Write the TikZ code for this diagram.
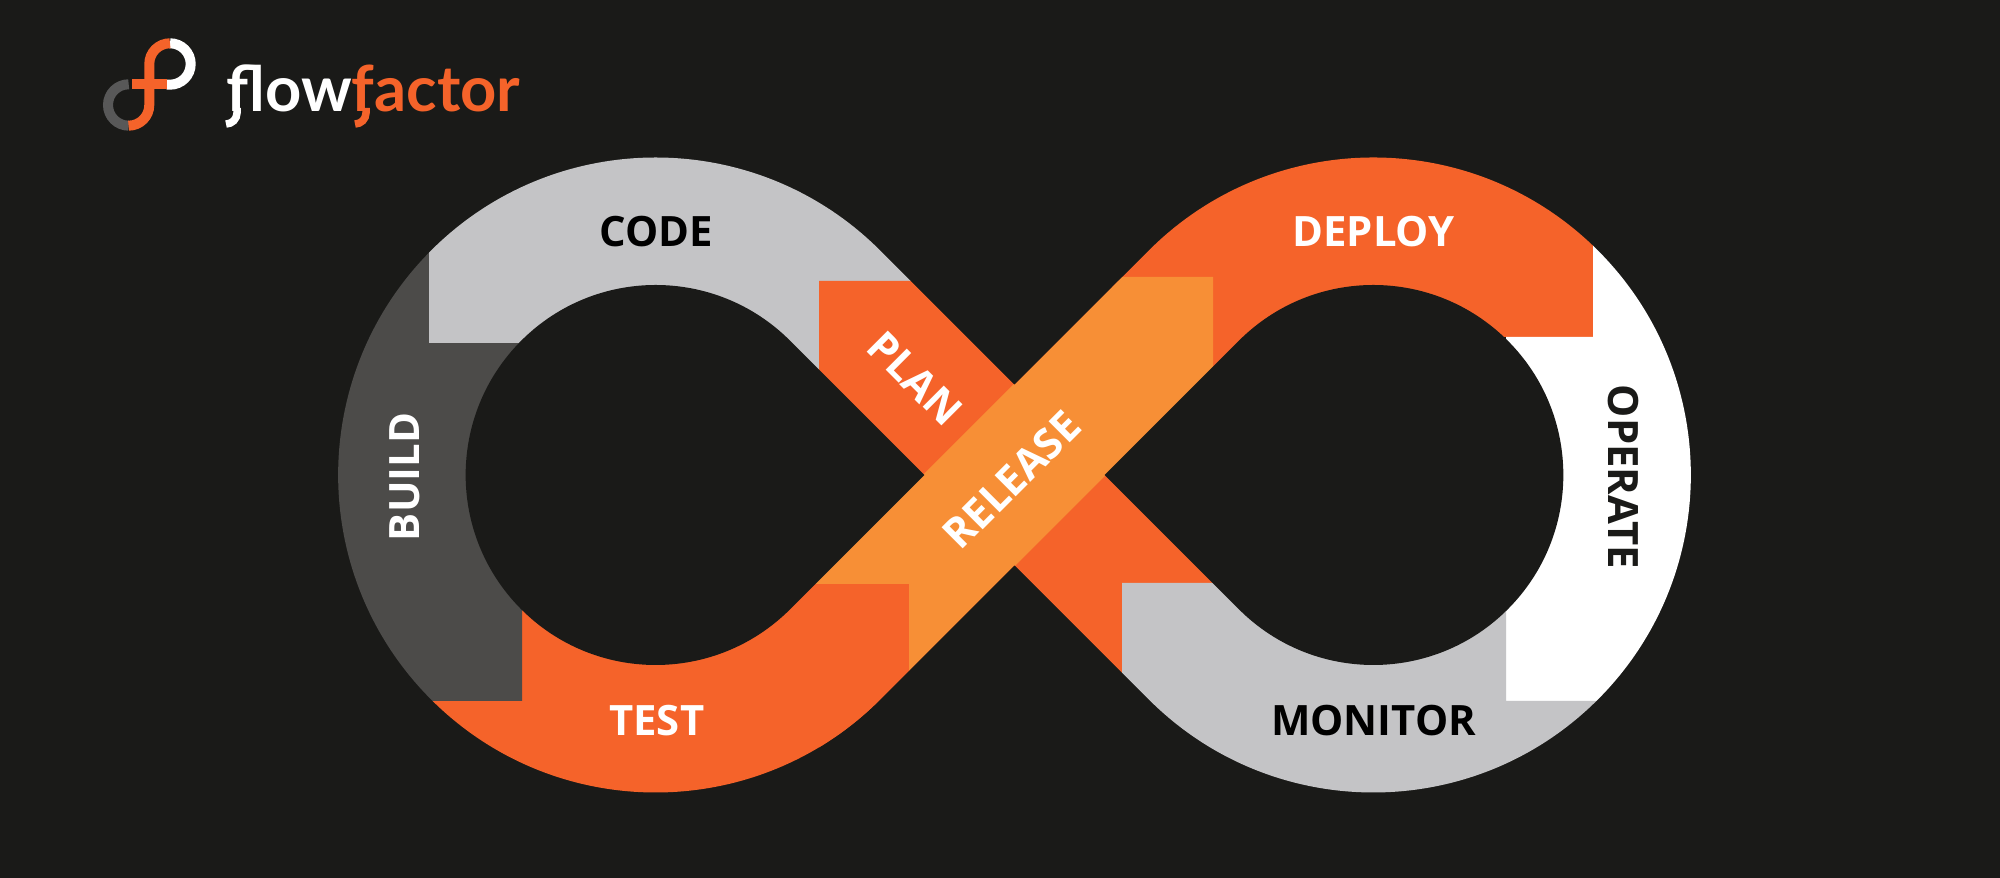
\documentclass[tikz,border=0pt]{standalone}
\usepackage{xcolor}
\usepackage{fontspec}
\usepackage{tikz}
\newfontfamily\etapefont{Open Sans}
\newfontfamily\logofont{Lato}
\definecolor{fondC}{RGB}{26,26,24}
\definecolor{grisC}{RGB}{196,196,198}
\definecolor{sombreC}{RGB}{76,75,73}
\definecolor{logoC}{RGB}{88,88,88}
\definecolor{orangeC}{RGB}{245,99,42}
\definecolor{releaseC}{RGB}{247,143,54}
\tikzset{
  etape/.style={inner sep=0pt, text=#1, font=\etapefont\bfseries\fontsize{11.9pt}{12pt}\selectfont},
  zone/.style={fill=#1, draw=none},
  anneau/.style={draw=#1, line width=1mm},
  crochet/.style={draw=#1, line width=0.75mm},
}
\begin{document}
\begin{tikzpicture}[x=0.1mm, y=-0.1mm]
        \useasboundingbox (0,0) rectangle (2000,878);
        \fill[fondC] (0,0) rectangle (2000,878);
        % logo
        \draw[anneau=logoC] (128.7,84.3) arc[start angle=-90, end angle=-270, radius=20.7];
        \draw[anneau=white] (170,43.3) arc[start angle=-90, end angle=90, radius=20.7] -- (166.7,84.7);
        \draw[anneau=orangeC] (170,43.3) arc[start angle=-90, end angle=-180, radius=20.7]
          -- (149.3,105) arc[start angle=0, end angle=90, radius=20.7];
        \draw[anneau=orangeC] (132,84.5) -- (166.7,84.5);
        \node[inner sep=0pt, anchor=base west, font=\logofont\bfseries\fontsize{18pt}{18pt}\selectfont] (logo) at (226,111.7)
          {\textcolor{white}{flow}\textcolor{orangeC}{factor}};
        \draw[crochet=white] (237,108) -- (237,113) arc[start angle=0, end angle=90, radius=11];
        \draw[crochet=orangeC] (366,108) -- (366,113) arc[start angle=0, end angle=90, radius=11];
        % ruban
        \begin{scope}
          \clip (880.15,250.5) arc[start angle=-45, end angle=-315, radius=317.5]
            -- (1014.5,565.15) -- (1148.85,699.5)
            arc[start angle=135, end angle=-135, radius=317.5]
            -- (1014.5,384.85) -- cycle;
          \fill[zone=orangeC] (300,701) -- (522,701) -- (522,584) -- (909,584) -- (909,800) -- (300,800) -- cycle;
          \fill[zone=sombreC] (300,150) -- (429,150) -- (429,343) -- (522,343) -- (522,701) -- (300,701) -- cycle;
          \fill[zone=grisC] (429,150) -- (950,150) -- (950,281) -- (819,281) -- (819,400) -- (700,400) -- (700,343) -- (429,343) -- cycle;
          \fill[zone=orangeC] (819,281) -- (1300,281) -- (1300,583) -- (1122,583) -- (1122,800) -- (819,800) -- cycle;
          \fill[zone=orangeC] (1000,150) -- (1593,150) -- (1593,337) -- (1240,337) -- (1213,367) -- (1100,277) -- cycle;
          \fill[zone=white] (1593,150) -- (1750,150) -- (1750,701) -- (1506,701) -- (1506,337) -- (1593,337) -- cycle;
          \fill[zone=grisC] (1122,583) -- (1506,583) -- (1506,701) -- (1750,701) -- (1750,800) -- (1122,800) -- cycle;
          \fill[zone=releaseC] (909,672) -- (909,584) -- (814,584) -- (1121,277) -- (1213,277) -- (1213,368) -- cycle;
        \end{scope}
        % trous
        \fill[fondC] (924.35,475) -- (790,340.65) arc[start angle=-45, end angle=-315, radius=190] -- cycle;
        \fill[fondC] (1104.65,475) -- (1239,609.35) arc[start angle=135, end angle=-135, radius=190] -- cycle;
        % etapes
        \node[etape=black] (code) at (656,232) {CODE};
        \node[etape=white] (deploy) at (1373.6,232) {DEPLOY};
        \node[etape=white] (test) at (656.8,721) {TEST};
        \node[etape=black] (monitor) at (1373.6,721) {MONITOR};
        \node[etape=white, rotate=90] (build) at (404.6,477) {BUILD};
        \node[etape=fondC, rotate=-90] (operate) at (1623.5,477) {OPERATE};
        \node[etape=white, rotate=-45] (plan) at (915,378.3) {PLAN};
        \node[etape=white, rotate=45] (release) at (1011.7,480) {RELEASE};
      \end{tikzpicture}
\end{document}
